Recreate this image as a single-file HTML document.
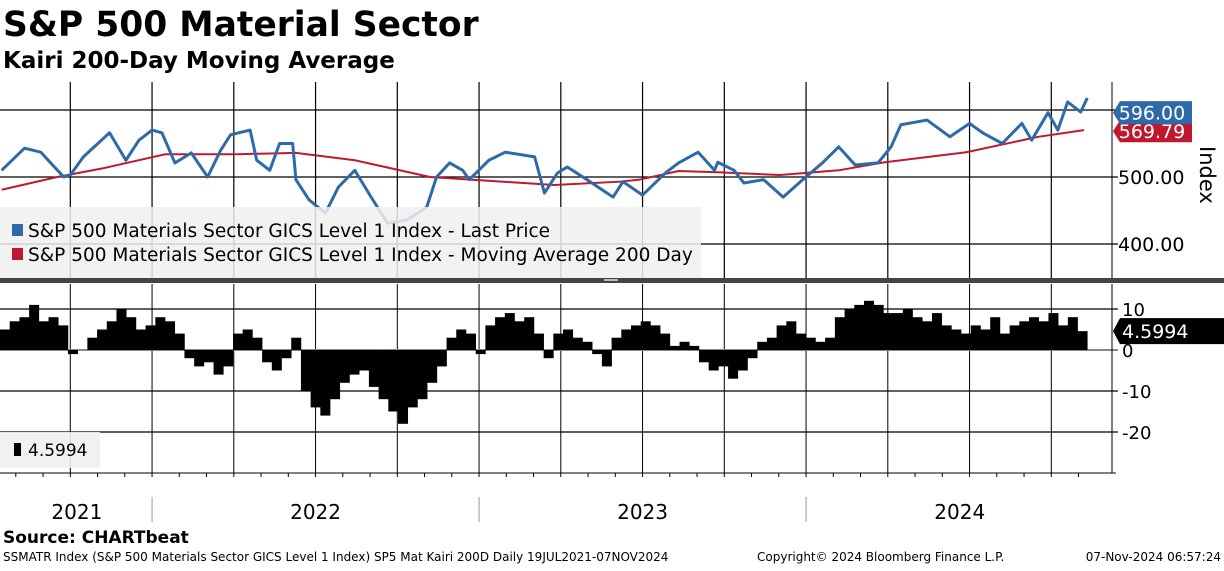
<!DOCTYPE html>
<html><head><meta charset="utf-8">
<style>
html,body{margin:0;padding:0;background:#fff;}
body{width:1224px;height:566px;overflow:hidden;font-family:"Liberation Sans","DejaVu Sans",sans-serif;}
svg text{font-family:"DejaVu Sans","Liberation Sans",sans-serif;}
</style></head>
<body>
<svg id="chart" width="1224" height="566" viewBox="0 0 1224 566" xmlns="http://www.w3.org/2000/svg">
  <text x="3" y="36" font-size="34.5" font-weight="bold" fill="#000">S&amp;P 500 Material Sector</text>
  <text x="3" y="68" font-size="23" font-weight="bold" fill="#000">Kairi 200-Day Moving Average</text>
  <g id="top-grid"></g>
  <g id="bot-grid"></g>
  <g id="marks"></g>
  <g id="overlay"></g>
  <text x="3" y="543" font-size="17" font-weight="bold" fill="#000">Source: CHARTbeat</text>
  <text x="3" y="561" font-size="12" fill="#000">SSMATR Index (S&amp;P 500 Materials Sector GICS Level 1 Index) SP5 Mat Kairi 200D  Daily 19JUL2021-07NOV2024</text>
  <text x="757" y="561" font-size="12" fill="#000">Copyright© 2024 Bloomberg Finance L.P.</text>
  <text x="1221" y="561" font-size="12" fill="#000" text-anchor="end">07-Nov-2024 06:57:24</text>
</svg>
<script>
const priceDates=[2021.54,2021.61,2021.66,2021.69,2021.73,2021.75,2021.79,2021.87,2021.92,2021.96,2022.00,2022.03,2022.07,2022.12,2022.17,2022.21,2022.24,2022.30,2022.32,2022.36,2022.39,2022.43,2022.44,2022.48,2022.53,2022.57,2022.62,2022.67,2022.72,2022.78,2022.84,2022.87,2022.91,2022.95,2022.97,2023.03,2023.08,2023.17,2023.20,2023.24,2023.27,2023.33,2023.41,2023.44,2023.50,2023.57,2023.61,2023.67,2023.72,2023.73,2023.78,2023.81,2023.87,2023.93,2023.99,2024.05,2024.10,2024.15,2024.22,2024.26,2024.29,2024.37,2024.44,2024.50,2024.54,2024.60,2024.66,2024.69,2024.74,2024.77,2024.80,2024.84,2024.86];
const priceValues=[510,543,537,521,500,503,530,566,525,555,570,566,521,536,500,540,563,570,525,510,550,550,496,466,446,485,510,470,431,436,455,500,521,510,496,525,537,530,476,506,515,496,470,493,473,506,521,537,510,522,510,491,496,470,496,521,545,518,521,545,578,585,560,580,566,550,580,555,596,570,612,597,618,588,596];
const maDates=[2021.54,2021.71,2021.85,2022.04,2022.26,2022.44,2022.62,2022.85,2023.23,2023.43,2023.49,2023.61,2023.73,2023.92,2024.10,2024.24,2024.49,2024.71,2024.85];
const maValues=[481,500,513,534,534,536,525,500,488,493,496,509,507,503,510,522,537,560,570];
const kairiValues=[5,7,8,11,7,8,6,-1,0,3,5,7,10,8,5,6,8,7,4,-2,-4,-3,-6,-4,4,5,3,-3,-5,-2,3,-10,-14,-16,-12,-8,-6,-5,-9,-12,-15,-18,-14,-12,-8,-4,3,5,4,-1,6,8,9,7,8,4,-2,4,5,3,2,-1,-4,3,5,6,7,6,4,1,2,1,-3,-5,-4,-7,-5,-2,2,3,6,7,4,3,2,3,8,10,11,12,11,9,9,10,8,7,9,6,5,4,6,5,8,4,6,7,8,7,9,6,8,4.6];
const priceTicks=[600,500,400];
const priceTickLabels=["","500.00","400.00"];
const kairiTicks=[10,0,-10,-20];
const kairiTickLabels=["10","0","-10","-20"];
const yearLabels=["2021","2022","2023","2024"];
const yearLabelPos=[2021.77,2022.5,2023.5,2024.47];
const lastPrice=596.00, lastMA=569.79, lastKairi=4.5994;

const NS="http://www.w3.org/2000/svg";
const START=2021.535, PXY=327, PLOT_R=1112;
const xs=d=>(d-START)*PXY;
const yP=v=>110+(600-v)*0.67;
const yK=v=>350-v*4.1;
function mk(tag,attrs,parent){const e=document.createElementNS(NS,tag);for(const k in attrs)e.setAttribute(k,attrs[k]);parent.appendChild(e);return e;}
const tg=document.getElementById('top-grid'),bg=document.getElementById('bot-grid'),mg=document.getElementById('marks'),ov=document.getElementById('overlay');

for(let q=2021.75;q<2024.9;q+=0.25){
  const x=xs(q);
  const l1=mk('line',{x1:x,y1:82,x2:x,y2:279,stroke:'#000','stroke-width':1.2},tg);
  
  
  const l2=mk('line',{x1:x,y1:284,x2:x,y2:473,stroke:'#000','stroke-width':1},bg);
  
  
}
priceTicks.forEach((v,i)=>{
  const y=yP(v);
  const l=mk('line',{x1:0,y1:y,x2:PLOT_R+6,y2:y,stroke:'#000','stroke-width':1.2},tg);
  
  
  if(priceTickLabels[i]){
    const t=mk('text',{x:1118,y:y+7,'font-size':19,fill:'#000'},tg);
    t.textContent=priceTickLabels[i];
    
    
  }
});
mk('line',{x1:PLOT_R,y1:82,x2:PLOT_R,y2:279,stroke:'#000','stroke-width':1},tg);
kairiTicks.forEach((v,i)=>{
  const y=yK(v);
  const l=mk('line',{x1:0,y1:y,x2:PLOT_R+6,y2:y,stroke:v===0?'#888':'#000','stroke-width':v===0?2:1.2},bg);
  
  
  const t=mk('text',{x:1122,y:y+7,'font-size':18,fill:'#000'},bg);
  t.textContent=kairiTickLabels[i];
  
  
});
mk('line',{x1:PLOT_R,y1:284,x2:PLOT_R,y2:473,stroke:'#000','stroke-width':1},bg);
mk('line',{x1:0,y1:473,x2:PLOT_R+4,y2:473,stroke:'#000','stroke-width':1},bg);
for(let m=2021.5833;m<2024.9;m+=1/12){const x=xs(m);if(x<0||x>PLOT_R)continue;mk('line',{x1:x,y1:473,x2:x,y2:477,stroke:'#000','stroke-width':1},bg);}
[2022,2023,2024].forEach(yv=>{const x=xs(yv);const s=mk('line',{x1:x,y1:497,x2:x,y2:522,stroke:'#999','stroke-width':1},bg);
  
  });
yearLabels.forEach((lab,i)=>{
  const t=mk('text',{x:xs(yearLabelPos[i]),y:519,'font-size':20,'text-anchor':'middle',fill:'#000'},bg);
  t.textContent=lab;
  
  
});

const maPath=mk('polyline',{points:maDates.map((d,i)=>xs(d)+','+yP(maValues[i])).join(' '),fill:'none',stroke:'#c0182e','stroke-width':2},mg);


const pPath=mk('polyline',{points:priceDates.map((d,i)=>xs(d)+','+yP(priceValues[i])).join(' '),fill:'none',stroke:'#2f6aa8','stroke-width':3,'stroke-linejoin':'round'},mg);


const kEnd=2024.86, step=(kEnd-START)/kairiValues.length;
kairiValues.forEach((v,i)=>{
  const x0=xs(START+i*step), x1=xs(START+(i+1)*step);
  const y=yK(v), z=yK(0);
  const r=mk('rect',{x:x0,y:Math.min(y,z),width:x1-x0+0.3,height:Math.abs(z-y),fill:'#000'},mg);
  
  
});

mk('rect',{x:0,y:207,width:701,height:71,fill:'#f0f0f0','fill-opacity':0.85},ov);
mk('rect',{x:12,y:224,width:11,height:12,fill:'#2f6aa8'},ov);
let t=mk('text',{x:28,y:237,'font-size':18.5,fill:'#000'},ov);
t.textContent='S&P 500 Materials Sector GICS Level 1 Index - Last Price';


mk('rect',{x:12,y:248,width:11,height:12,fill:'#c0182e'},ov);
t=mk('text',{x:28,y:261,'font-size':18.5,fill:'#000'},ov);
t.textContent='S&P 500 Materials Sector GICS Level 1 Index - Moving Average 200 Day';


mk('rect',{x:0,y:278,width:1224,height:5,fill:'#444'},ov);
mk('rect',{x:604,y:279,width:14,height:2,fill:'#bbb'},ov);
mk('rect',{x:0,y:432,width:100,height:36,fill:'#f0f0f0','fill-opacity':0.9},ov);
mk('rect',{x:14,y:443,width:7,height:13,fill:'#000'},ov);
t=mk('text',{x:28,y:456,'font-size':17,fill:'#000'},ov);
t.textContent='4.5994';


function tag(y,color,label,name,h){
  const g=mk('g',{},ov);
  
  
  mk('path',{d:`M${PLOT_R+1},${y} L${PLOT_R+8},${y-h/2} L1192,${y-h/2} L1192,${y+h/2} L${PLOT_R+8},${y+h/2} Z`,fill:color},g);
  const tt=mk('text',{x:1152,y:y+7,'font-size':19,fill:'#fff','text-anchor':'middle'},g);
  tt.textContent=label;
}
tag(yP(lastMA)+1,'#c0182e',lastMA.toFixed(2),'ma-value-tag',22);
tag(yP(lastPrice),'#2f6aa8',lastPrice.toFixed(2),'price-value-tag',23);
const kg=mk('g',{},ov);


const ky=yK(lastKairi);
mk('path',{d:`M${PLOT_R+1},${ky} L${PLOT_R+8},${ky-13} L1224,${ky-13} L1224,${ky+13} L${PLOT_R+8},${ky+13} Z`,fill:'#000'},kg);
const kt=mk('text',{x:1122,y:ky+7,'font-size':19,fill:'#fff'},kg);
kt.textContent=lastKairi.toFixed(4);
const it=mk('text',{x:0,y:0,'font-size':21,fill:'#000',transform:'translate(1200,146) rotate(90)'},ov);
it.textContent='Index';


</script>
</body></html>
